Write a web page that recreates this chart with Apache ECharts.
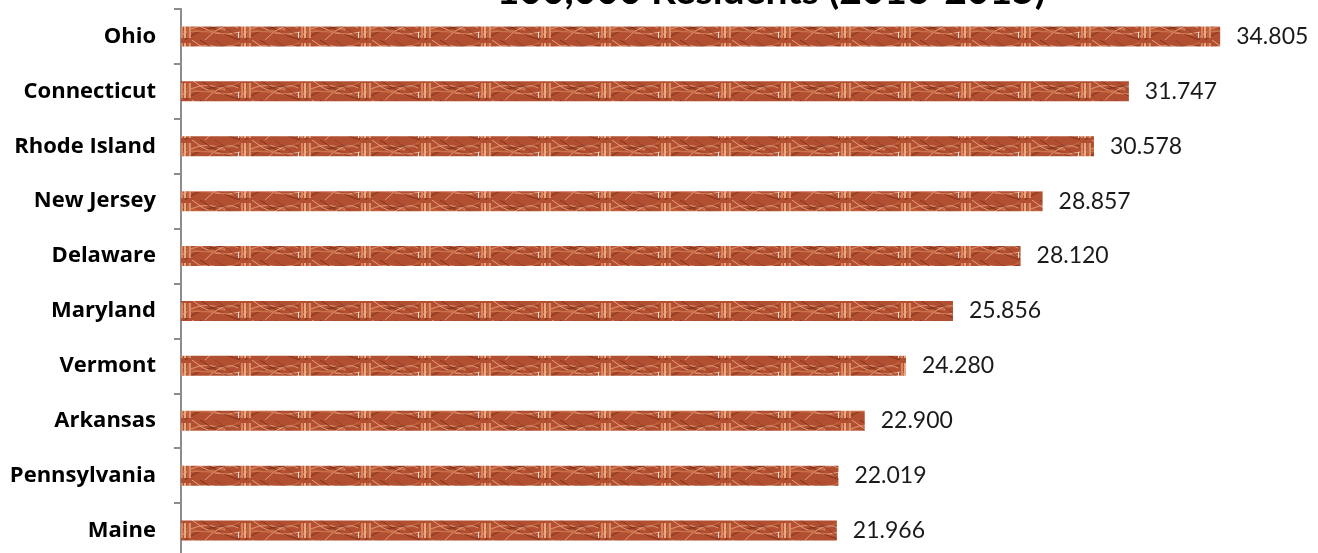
<!DOCTYPE html>
<html><head><meta charset="utf-8">
<script src="https://cdn.jsdelivr.net/npm/echarts@6/dist/echarts.min.js"></script>
<style>html,body{margin:0;padding:0;background:#fff}#c{width:1318px;height:553px}</style>
</head><body><div id="c"></div>
<script>
const titleText = '100,000 Residents (2013-2015)';
const states = ['Ohio','Connecticut','Rhode Island','New Jersey','Delaware','Maryland','Vermont','Arkansas','Pennsylvania','Maine'];
const rates = [34.805, 31.747, 30.578, 28.857, 28.120, 25.856, 24.280, 22.900, 22.019, 21.966];

function makeTile(){
  const c = document.createElement('canvas');
  c.width = 60; c.height = 20;
  const g = c.getContext('2d');
  g.fillStyle = '#b24f30'; g.fillRect(0,0,60,20);
  const curves = [
    ['#d98866',1.4,[0,17],[20,-2],[45,10]],['#8a3a22',1.2,[5,20],[25,4],[60,6]],
    ['#e4a184',1,[12,0],[35,20],[60,12]],['#c5673f',1.3,[0,6],[30,18],[60,2]],
    ['#7d2f1a',0.9,[20,0],[40,14],[60,20]],['#e9ad90',0.8,[25,20],[45,0],[58,8]],
    ['#cf7450',1.1,[0,12],[28,10],[60,16]],['#94412a',1,[35,0],[50,10],[60,19]]
  ];
  curves.forEach(([col,w,a,b,e])=>{g.strokeStyle=col;g.lineWidth=w;g.beginPath();g.moveTo(a[0],a[1]);g.quadraticCurveTo(b[0],b[1],e[0],e[1]);g.stroke();});
  [[1,'#d9845c'],[4,'#e8a982'],[7,'#c0643e'],[9,'#d8906a']].forEach(([x,col])=>{g.fillStyle=col;g.fillRect(x,3,2,15);});
  g.fillStyle='#f4e0d6'; g.fillRect(58,12,1,6);
  return c;
}

const chart = echarts.init(document.getElementById('c'), null, {renderer:'canvas'});
chart.setOption({
  animation:false,
  graphic:[{type:'text', x:771, y:11, style:{text:titleText, font:'bold 39px Lato', fill:'#000', align:'center', verticalAlign:'bottom'}}],
  grid:{left:181, top:9, width:1045, height:549, outerBoundsMode:'none', containLabel:false},
  xAxis:{type:'value', min:0, max:35, show:false},
  yAxis:{type:'category', inverse:true, data:states,
    axisLine:{show:true, lineStyle:{color:'#8c8c8c', width:2}},
    axisTick:{show:true, length:7, lineStyle:{color:'#8c8c8c', width:2}},
    axisLabel:{margin:25, color:'#000', fontWeight:'bold', fontSize:22, fontFamily:'Open Sans'}},
  series:[{type:'bar', data:rates, barWidth:20,
    itemStyle:{color:{image:makeTile(), repeat:'repeat'}},
    label:{show:true, position:'right', distance:16, color:'#1a1a1a', fontSize:23, fontFamily:'Lato',
      formatter:p=>p.value.toFixed(3)}}]
});
</script></body></html>
